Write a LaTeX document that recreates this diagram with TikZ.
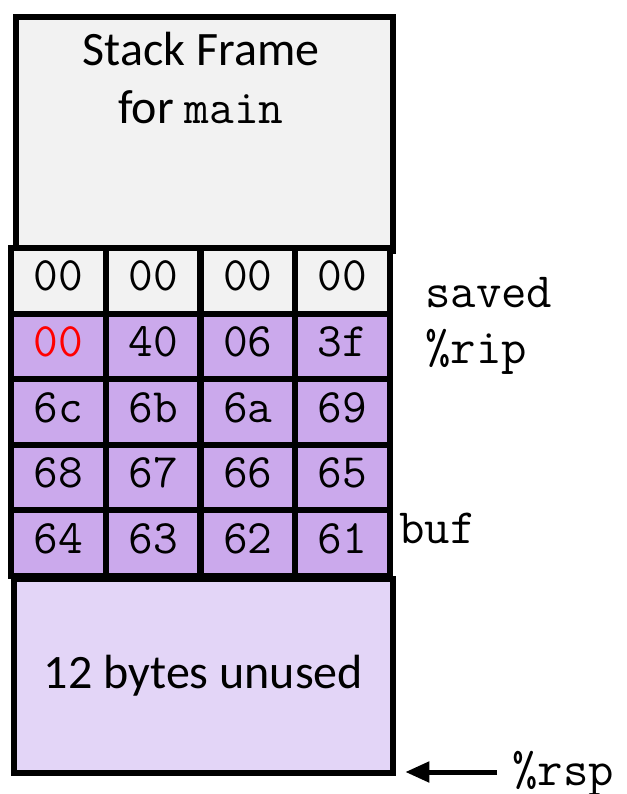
\documentclass[tikz,border=0pt]{standalone}
\usepackage{fontspec}
\setmainfont{Carlito}
\usetikzlibrary{arrows.meta}
\definecolor{framegray}{HTML}{F2F2F2}
\definecolor{bufpurple}{HTML}{CBA9EC}
\definecolor{unusedpurple}{HTML}{E3D5F7}
\definecolor{overwritered}{HTML}{FF0000}

\begin{document}
\begin{tikzpicture}[x=0.75pt,y=-0.75pt]
\useasboundingbox (0,0) rectangle (626,794);
\tikzset{
  box/.style={draw=black, line width=4.5pt, inner sep=0pt},
  bytecell/.style={box, minimum width=71.06pt, minimum height=49.2pt,
    text height=15pt, text depth=0pt,
    font=\ttfamily\fontsize{36}{36}\selectfont},
  saneText/.style={inner sep=0pt, font=\fontsize{36}{43.5}\selectfont},
  codelabel/.style={inner sep=0pt, anchor=base west,
    font=\ttfamily\fontsize{37}{37}\selectfont},
}

% stack frame of the caller
\node[box, fill=framegray, anchor=north west,
      minimum width=282.75pt, minimum height=175.5pt] (frame) at (13,14) {};
\node[saneText, anchor=base, align=center] (frametitle) at (201,123)
  {Stack Frame\\for {\ttfamily main}};

% saved return address (upper bytes)
\foreach \v [count=\c] in {00,00,00,00}
  \node[bytecell, fill=framegray] (cell-1-\c)
    at ({11+94.75*(\c-0.5)}, {248+65.6*0.5}) {\v};

% bytes written into buf
\foreach \r/\vals in {2/{00,40,06,3f},3/{6c,6b,6a,69},4/{68,67,66,65},5/{64,63,62,61}}
  \foreach \v [count=\c] in \vals
    \node[bytecell, fill=bufpurple] (cell-\r-\c)
      at ({11+94.75*(\c-0.5)}, {248+65.6*(\r-0.5)}) {\v};
\node[bytecell, fill=bufpurple, text=overwritered] (cell-2-1)
  at ({11+94.75*0.5}, {248+65.6*1.5}) {00};

% unused space at the bottom of the frame
\node[box, fill=unusedpurple, anchor=north west,
      minimum width=284.25pt, minimum height=145.5pt] (unused) at (11,576) {};
\node[saneText] (unusedtext) at (unused.center) {12 bytes unused};

% labels
\node[codelabel] (saved) at (425,307) {saved};
\node[codelabel] (rip) at (425,363) {\%rip};
\node[codelabel] (buf) at (399,543) {buf};
\node[codelabel] (rsp) at (512,785) {\%rsp};

% stack pointer arrow
\coordinate (rsptail) at (497,772);
\draw[line width=3.75pt, -{Triangle[length=18pt,width=15pt]}, shorten >=7pt]
  (rsptail) -- (rsptail -| unused.east);
\end{tikzpicture}
\end{document}
